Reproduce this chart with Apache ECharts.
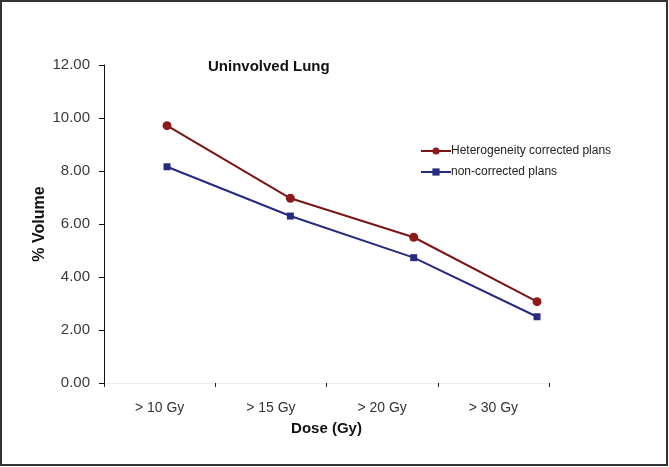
<!DOCTYPE html>
<html>
<head>
<meta charset="utf-8">
<script src="https://cdn.jsdelivr.net/npm/echarts@6/dist/echarts.min.js"></script>
<style>
  html, body { margin: 0; padding: 0; background: #fff; }
  #chart { width: 669px; height: 467px; }
</style>
</head>
<body>
<div id="chart"></div>
<script>
  // dose categories and the two plan series (% volume)
  var categories = ['> 10 Gy', '> 15 Gy', '> 20 Gy', '> 30 Gy']
  var corrected = [9.71, 6.97, 5.50, 3.07]
  var nonCorrected = [8.16, 6.30, 4.73, 2.50]
  var yTicks = [0, 2, 4, 6, 8, 10, 12]

  var dom = echarts.init(document.getElementById('chart'))

  // points sit on their own index scale (slightly wider than category slots)
  function toPairs(arr) {
    return arr.map(function (v, i) { return [i, v] })
  }

  var option = {
    backgroundColor: '#fff',
    animation: false,
    title: {
      text: 'Uninvolved Lung',
      left: 203,
      top: 54,
      textStyle: { fontFamily: 'Arial, Liberation Sans', fontSize: 15, fontWeight: 'bold', color: '#111' }
    },
    legend: {
      orient: 'vertical',
      left: 420,
      top: 145,
      padding: 0,
      itemWidth: 30,
      itemHeight: 9,
      itemGap: 9,
      textStyle: { fontFamily: 'Arial, Liberation Sans', fontSize: 12, color: '#222', padding: [0, 0, 0, -5] },
      data: ['Heterogeneity corrected plans', 'non-corrected plans']
    },
    grid: { left: 104, top: 65, right: 120, bottom: 84, containLabel: false },
    xAxis: [
      {
        type: 'category',
        data: categories,
        boundaryGap: true,
        name: 'Dose (Gy)',
        nameLocation: 'middle',
        nameGap: 38,
        nameTextStyle: { fontFamily: 'Arial, Liberation Sans', fontSize: 15, fontWeight: 'bold', color: '#111' },
        axisLine: { lineStyle: { color: '#ececec', width: 1 } },
        axisTick: { show: true, length: 4, lineStyle: { color: '#222' } },
        axisLabel: { fontFamily: 'Arial, Liberation Sans', fontSize: 14, color: '#333', margin: 18 }
      },
      {
        type: 'value',
        min: -0.511,
        max: 3.097,
        show: false
      }
    ],
    yAxis: {
      type: 'value',
      min: yTicks[0],
      max: yTicks[yTicks.length - 1],
      interval: 2,
      name: '% Volume',
      nameLocation: 'middle',
      nameGap: 56,
      nameMoveOverlap: false,
      nameTextStyle: { fontFamily: 'Arial, Liberation Sans', fontSize: 16, fontWeight: 'bold', color: '#111' },
      axisLine: { show: true, onZero: false, lineStyle: { color: '#111', width: 1 } },
      axisTick: { show: true, length: 5, lineStyle: { color: '#111' } },
      splitLine: { show: false },
      axisLabel: {
        fontFamily: 'Arial, Liberation Sans',
        fontSize: 15,
        color: '#3a3a3a',
        margin: 14,
        formatter: function (v) { return v.toFixed(2) }
      }
    },
    series: [
      {
        name: 'Heterogeneity corrected plans',
        type: 'line',
        xAxisIndex: 1,
        data: toPairs(corrected),
        symbol: 'circle',
        symbolSize: 9,
        itemStyle: { color: '#8e1b1b' },
        lineStyle: { color: '#7a1515', width: 2 }
      },
      {
        name: 'non-corrected plans',
        type: 'line',
        xAxisIndex: 1,
        data: toPairs(nonCorrected),
        symbol: 'rect',
        symbolSize: 7,
        itemStyle: { color: '#262a80' },
        lineStyle: { color: '#262a80', width: 2 }
      }
    ],
    graphic: [
      {
        type: 'rect',
        shape: { x: 1, y: 1, width: 666, height: 464 },
        style: { fill: 'none', stroke: '#333', lineWidth: 2 },
        silent: true
      }
    ]
  }

  dom.setOption(option)
</script>
</body>
</html>
